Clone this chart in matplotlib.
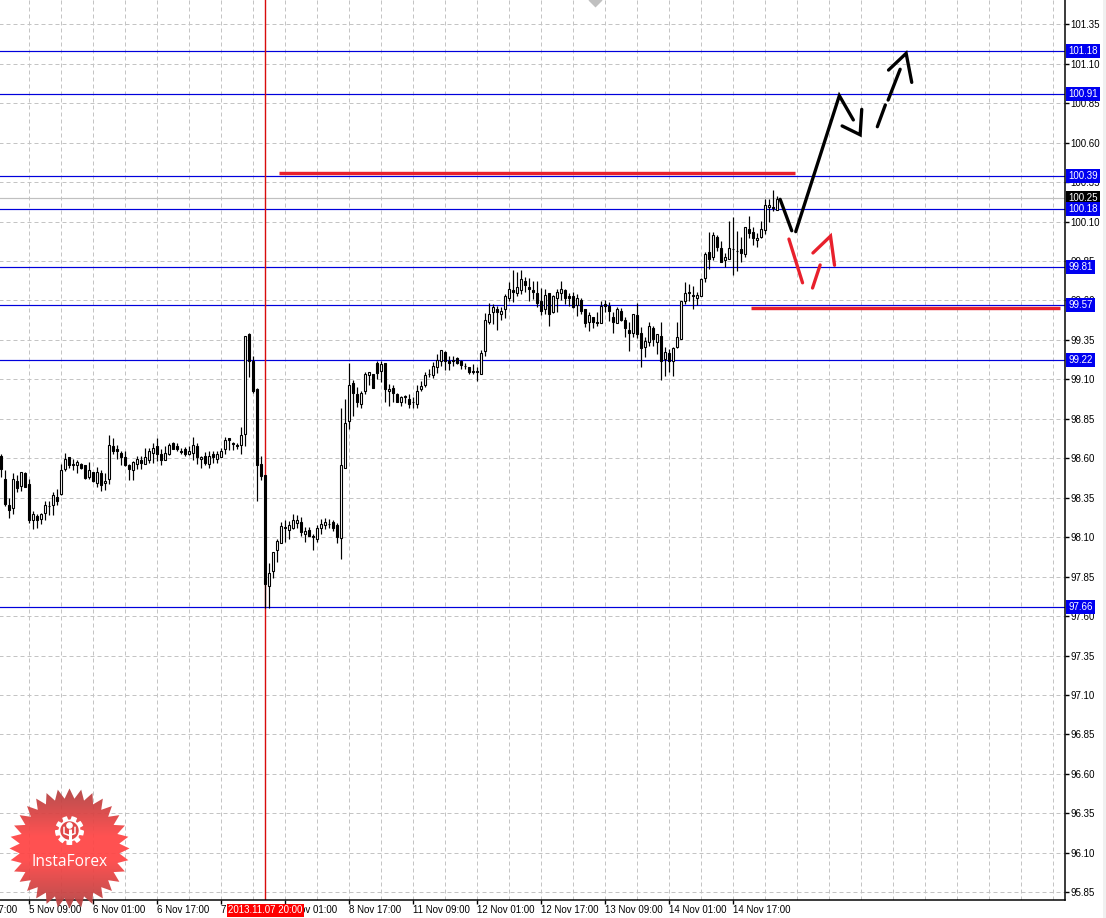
import numpy as np
import matplotlib
matplotlib.use('Agg')
import matplotlib.pyplot as plt
from matplotlib.patches import Polygon, Rectangle

plt.rcParams['font.family'] = ['Liberation Sans', 'DejaVu Sans']

# H4 candles, oldest first
opens = [
    98.615, 98.467, 98.305, 98.283, 98.457, 98.423, 98.508, 98.436, 98.207, 98.235,
    98.214, 98.252, 98.298, 98.302, 98.353, 98.372, 98.535, 98.609, 98.563, 98.556,
    98.563, 98.558, 98.484, 98.514, 98.442, 98.505, 98.442, 98.467, 98.677, 98.658,
    98.632, 98.609, 98.556, 98.524, 98.563, 98.590, 98.563, 98.592, 98.632, 98.677,
    98.626, 98.592, 98.626, 98.696, 98.677, 98.643, 98.658, 98.630, 98.632, 98.677,
    98.594, 98.615, 98.563, 98.626, 98.594, 98.611, 98.658, 98.728, 98.700, 98.683,
    98.683, 98.753, 99.387, 99.216, 99.038, 98.563, 98.493, 97.793, 97.884, 98.017,
    98.066, 98.163, 98.144, 98.161, 98.192, 98.197, 98.123, 98.144, 98.108, 98.091,
    98.161, 98.175, 98.184, 98.195, 98.178, 98.093, 98.541, 98.835, 99.076, 99.009,
    98.944, 99.024, 99.125, 99.134, 99.206, 99.151, 99.204, 99.026, 99.047, 99.007,
    98.954, 98.992, 98.977, 98.956, 98.944, 99.039, 99.062, 99.134, 99.125, 99.176,
    99.219, 99.276, 99.214, 99.223, 99.235, 99.214, 99.185, 99.178, 99.153, 99.153,
    99.134, 99.282, 99.462, 99.525, 99.546, 99.515, 99.546, 99.614, 99.667, 99.646,
    99.667, 99.726, 99.686, 99.667, 99.648, 99.595, 99.546, 99.648, 99.525, 99.614,
    99.648, 99.667, 99.631, 99.631, 99.574, 99.606, 99.546, 99.462, 99.498, 99.464,
    99.458, 99.578, 99.563, 99.498, 99.458, 99.536, 99.477, 99.415, 99.392, 99.510,
    99.392, 99.303, 99.337, 99.426, 99.339, 99.375, 99.231, 99.267, 99.219, 99.303,
    99.356, 99.599, 99.652, 99.635, 99.614, 99.626, 99.740, 99.910, 99.874, 100.005,
    99.933, 99.857, 99.861, 99.927, 99.914, 99.929, 99.893, 100.053, 100.037, 99.984,
    100.001, 100.047, 100.191, 100.193, 100.174,
]
closes = [
    98.533, 98.313, 98.275, 98.467, 98.414, 98.512, 98.421, 98.211, 98.245, 98.207,
    98.245, 98.302, 98.298, 98.366, 98.332, 98.524, 98.594, 98.560, 98.556, 98.575,
    98.541, 98.474, 98.524, 98.453, 98.510, 98.431, 98.455, 98.683, 98.643, 98.645,
    98.611, 98.558, 98.535, 98.575, 98.594, 98.573, 98.607, 98.647, 98.664, 98.628,
    98.588, 98.632, 98.683, 98.662, 98.658, 98.641, 98.626, 98.645, 98.683, 98.607,
    98.609, 98.573, 98.615, 98.605, 98.626, 98.645, 98.715, 98.715, 98.692, 98.677,
    98.747, 99.375, 99.218, 99.024, 98.556, 98.486, 97.805, 97.875, 98.004, 98.074,
    98.173, 98.156, 98.175, 98.207, 98.207, 98.135, 98.140, 98.110, 98.104, 98.156,
    98.182, 98.195, 98.184, 98.161, 98.101, 98.556, 98.823, 99.064, 99.011, 98.954,
    99.013, 99.134, 99.145, 99.043, 99.138, 99.197, 99.037, 99.039, 99.011, 98.958,
    98.988, 98.986, 98.941, 98.956, 99.024, 99.058, 99.128, 99.134, 99.185, 99.221,
    99.286, 99.219, 99.202, 99.219, 99.204, 99.193, 99.185, 99.144, 99.147, 99.147,
    99.265, 99.477, 99.515, 99.559, 99.525, 99.534, 99.629, 99.673, 99.652, 99.688,
    99.737, 99.699, 99.671, 99.652, 99.582, 99.532, 99.637, 99.515, 99.629, 99.654,
    99.673, 99.614, 99.614, 99.557, 99.616, 99.532, 99.458, 99.508, 99.462, 99.455,
    99.565, 99.563, 99.536, 99.462, 99.546, 99.479, 99.424, 99.392, 99.515, 99.388,
    99.297, 99.343, 99.438, 99.356, 99.388, 99.219, 99.273, 99.219, 99.299, 99.369,
    99.595, 99.648, 99.648, 99.629, 99.637, 99.738, 99.895, 99.861, 100.017, 99.941,
    99.842, 99.876, 99.933, 99.927, 99.914, 99.903, 100.066, 100.026, 99.994, 99.996,
    100.053, 100.206, 100.208, 100.187, 100.244,
]
highs = [
    98.626, 98.527, 98.347, 98.505, 98.495, 98.512, 98.512, 98.467, 98.266, 98.250,
    98.256, 98.330, 98.330, 98.387, 98.404, 98.563, 98.634, 98.609, 98.594, 98.588,
    98.571, 98.558, 98.575, 98.514, 98.546, 98.524, 98.505, 98.749, 98.730, 98.685,
    98.643, 98.643, 98.563, 98.584, 98.615, 98.615, 98.668, 98.668, 98.694, 98.730,
    98.658, 98.679, 98.698, 98.704, 98.700, 98.668, 98.673, 98.677, 98.734, 98.694,
    98.615, 98.637, 98.643, 98.643, 98.643, 98.668, 98.736, 98.728, 98.702, 98.698,
    98.797, 99.375, 99.394, 99.250, 99.043, 98.613, 98.493, 97.934, 98.004, 98.087,
    98.197, 98.207, 98.203, 98.247, 98.239, 98.228, 98.165, 98.165, 98.118, 98.178,
    98.214, 98.224, 98.216, 98.209, 98.188, 98.918, 98.975, 99.206, 99.098, 99.049,
    99.028, 99.149, 99.145, 99.134, 99.219, 99.219, 99.204, 99.070, 99.066, 99.013,
    98.996, 99.003, 99.007, 98.986, 99.064, 99.092, 99.145, 99.166, 99.208, 99.261,
    99.286, 99.282, 99.250, 99.250, 99.240, 99.223, 99.202, 99.180, 99.197, 99.180,
    99.286, 99.519, 99.584, 99.578, 99.567, 99.557, 99.641, 99.720, 99.790, 99.779,
    99.790, 99.747, 99.743, 99.726, 99.726, 99.677, 99.673, 99.648, 99.635, 99.673,
    99.726, 99.673, 99.648, 99.652, 99.641, 99.616, 99.546, 99.525, 99.498, 99.525,
    99.599, 99.603, 99.589, 99.525, 99.557, 99.551, 99.493, 99.462, 99.515, 99.584,
    99.430, 99.367, 99.466, 99.441, 99.388, 99.466, 99.303, 99.293, 99.307, 99.466,
    99.599, 99.720, 99.705, 99.694, 99.652, 99.743, 99.910, 100.032, 100.032, 100.017,
    99.979, 99.899, 100.106, 100.127, 100.039, 100.005, 100.066, 100.138, 100.068, 100.026,
    100.106, 100.244, 100.244, 100.297, 100.259,
]
lows = [
    98.482, 98.296, 98.224, 98.250, 98.389, 98.393, 98.421, 98.190, 98.154, 98.161,
    98.182, 98.211, 98.241, 98.241, 98.302, 98.368, 98.520, 98.541, 98.527, 98.508,
    98.529, 98.470, 98.470, 98.448, 98.421, 98.393, 98.400, 98.436, 98.630, 98.594,
    98.558, 98.548, 98.465, 98.465, 98.535, 98.535, 98.563, 98.571, 98.571, 98.584,
    98.560, 98.588, 98.622, 98.658, 98.643, 98.630, 98.615, 98.622, 98.588, 98.563,
    98.541, 98.558, 98.539, 98.573, 98.573, 98.605, 98.630, 98.654, 98.651, 98.656,
    98.630, 98.679, 99.112, 99.011, 98.330, 98.465, 97.649, 97.649, 97.843, 97.945,
    98.066, 98.072, 98.089, 98.150, 98.161, 98.108, 98.070, 98.108, 98.019, 98.072,
    98.118, 98.150, 98.161, 98.140, 98.066, 97.964, 98.541, 98.785, 98.869, 98.922,
    98.920, 99.007, 99.066, 99.043, 99.102, 99.081, 98.958, 98.933, 98.954, 98.954,
    98.933, 98.950, 98.916, 98.916, 98.916, 99.028, 99.054, 99.113, 99.106, 99.138,
    99.187, 99.161, 99.159, 99.185, 99.197, 99.166, 99.166, 99.134, 99.134, 99.092,
    99.134, 99.250, 99.451, 99.451, 99.413, 99.477, 99.489, 99.599, 99.593, 99.627,
    99.641, 99.652, 99.599, 99.610, 99.557, 99.508, 99.515, 99.441, 99.521, 99.525,
    99.603, 99.578, 99.567, 99.551, 99.504, 99.515, 99.430, 99.409, 99.424, 99.441,
    99.458, 99.525, 99.472, 99.392, 99.455, 99.472, 99.371, 99.282, 99.367, 99.362,
    99.176, 99.244, 99.314, 99.314, 99.261, 99.096, 99.123, 99.144, 99.123, 99.299,
    99.356, 99.578, 99.595, 99.546, 99.574, 99.626, 99.715, 99.800, 99.857, 99.912,
    99.842, 99.814, 99.861, 99.764, 99.785, 99.842, 99.874, 99.994, 99.954, 99.941,
    99.994, 100.022, 100.096, 100.166, 100.174,
]

price_ticks = [95.85, 96.10, 96.35, 96.60, 96.85, 97.10, 97.35, 97.60, 97.85, 98.10, 98.35, 98.60,
               98.85, 99.10, 99.35, 99.60, 99.85, 100.10, 100.35, 100.60, 100.85, 101.10, 101.35]
level_values = [101.18, 100.91, 100.39, 100.18, 99.81, 99.57, 99.22, 97.66]
last_price = 100.25
time_positions = [-9, 7, 23, 39, 55, 71, 87, 103, 119, 135, 151, 167, 183]
time_labels = ['4 Nov 17:00', '5 Nov 09:00', '6 Nov 01:00', '6 Nov 17:00', '7 Nov 09:00', '8 Nov 01:00',
               '8 Nov 17:00', '11 Nov 09:00', '12 Nov 01:00', '12 Nov 17:00', '13 Nov 09:00',
               '14 Nov 01:00', '14 Nov 17:00']
cross_bar = 66
cross_label = '2013.11.07 20:00'

# hand drawn forecast strokes, (bar, price)
black_strokes = [
    ([194.7, 197.6], [100.241, 100.042]),
    ([198.6, 209.5, 213.0], [100.036, 100.898, 100.744]),
    ([210.2, 214.7, 215.1], [100.706, 100.650, 100.811]),
    ([219.0, 221.0], [100.701, 100.839]),
    ([221.7, 224.7], [100.870, 101.065]),
    ([221.8, 226.2, 227.6], [101.060, 101.166, 100.982]),
]
red_strokes = [
    ([196.9, 200.3], [99.989, 99.712]),
    ([202.8, 204.7], [99.679, 99.825]),
    ([202.9, 207.3, 208.3], [99.901, 100.008, 99.823]),
]
red_levels = [(69.4, 198.4, 100.406), (187.4, 264.7, 99.550)]

#%%
W, H = 1106, 918
PX = 72 / 100
fig = plt.figure(figsize=(W / 100, H / 100), dpi=100, facecolor='white')
ax = fig.add_axes([0, 1 - 900 / H, 1064.5 / W, 900 / H])
ax.set_facecolor('white')

for s in ['top', 'left']:
    ax.spines[s].set_visible(False)
for s in ['right', 'bottom']:
    ax.spines[s].set_linewidth(1.5 * PX)

grid_x = np.arange(-1, 266, 8)
ax.vlines(grid_x, 95.8, 101.6, color='#c4c4c4', lw=1.0 * PX, linestyles=(0, (4, 3)), zorder=1)
ax.hlines(price_ticks, -1, 266, color='#c4c4c4', lw=1.0 * PX, linestyles=(0, (4, 3)), zorder=1)

# level lines
ax.hlines(last_price, -1, 266, color='#c0c0c0', lw=1.2 * PX, zorder=2)
ax.hlines(level_values, -1, 266, color='#0000dc', lw=1.2 * PX, zorder=2)
ax.axvline(cross_bar, color='#d80c0c', lw=1.4 * PX, zorder=2)

# candles
x = np.arange(len(opens))
o, c, h, l = map(np.array, (opens, closes, highs, lows))
ax.vlines(x, l, h, color='black', lw=1.2 * PX, zorder=3)
up = c >= o
ax.bar(x[up], (c - o)[up], bottom=o[up], width=0.55, facecolor='white', edgecolor='black',
       linewidth=1.1 * PX, zorder=4)
ax.bar(x[~up], (c - o)[~up], bottom=o[~up], width=0.55, facecolor='black', edgecolor='black',
       linewidth=1.1 * PX, zorder=4)

# forecast
for xs, ys in black_strokes:
    ax.plot(xs, ys, color='black', lw=3.3 * PX, solid_capstyle='round', solid_joinstyle='miter', zorder=6)
for xs, ys in red_strokes:
    ax.plot(xs, ys, color='#e8202c', lw=3.3 * PX, solid_capstyle='round', solid_joinstyle='miter', zorder=6)
for x0, x1, y0 in red_levels:
    ax.plot([x0, x1], [y0, y0], color='#e8202c', lw=3.4 * PX, solid_capstyle='butt', zorder=6)

# grey marker cut by the top edge
ax.plot([148.5], [101.504], marker='D', ms=7, color='#c0c0c0', mec='none', zorder=2, clip_on=True)

ax.set_xlim(-0.333, 265.79)
ax.set_ylim(95.801, 101.504)

# axes ticks
ax.yaxis.tick_right()
ax.set_yticks(price_ticks)
ax.set_yticklabels([f'{p:.2f}' for p in price_ticks], fontsize=7, color='black')
ax.tick_params(axis='y', length=3, width=1.4 * PX, pad=1)
ax.set_xticks(time_positions[1:])
ax.set_xticklabels([])
ax.tick_params(axis='x', length=3, width=1.4 * PX)
to_px = ax.get_xaxis_transform()
for t, lab in zip(time_positions, time_labels):
    ax.text(t - 0.1, -0.0115, lab, transform=to_px, fontsize=7, ha='left', va='center', clip_on=False,
            color='black')
ax.text(cross_bar, -0.0115, cross_label, transform=to_px, fontsize=7, color='white', ha='center', va='center',
        bbox=dict(facecolor='#ff0000', edgecolor='none', boxstyle='square,pad=0.15'), zorder=10)

# price boxes on the right
ypx = ax.get_yaxis_transform()
for v in level_values:
    ax.text(1.0035, v, f'{v:.2f}', transform=ypx, fontsize=7, color='white', ha='left', va='center',
            bbox=dict(facecolor='#0000f0', edgecolor='none', boxstyle='square,pad=0.2'), zorder=10, clip_on=False)
ax.text(1.0035, last_price, f'{last_price:.2f}', transform=ypx, fontsize=7, color='white', ha='left',
        va='center', bbox=dict(facecolor='black', edgecolor='none', boxstyle='square,pad=0.2'),
        zorder=9, clip_on=False)

# strip at the right edge of the screenshot
fig.add_artist(Rectangle((1103 / W, 0), 3 / W, 1, transform=fig.transFigure, facecolor='#f0f0f0', edgecolor='none'))

# logo
lax = fig.add_axes([0, 0, 140 / W, 140 / H], facecolor='none', zorder=5)
lax.axis('off')
cx, cy = 69.5, 848.5 - (H - 140)
n_spikes = 32
ang = np.linspace(0, 2 * np.pi, 2 * n_spikes, endpoint=False)
rad = np.where(np.arange(2 * n_spikes) % 2 == 0, 60, 50)
star = np.column_stack([cx + rad * np.sin(ang), cy - rad * np.cos(ang)])
shade = np.clip(1.25 * (1 - np.abs(np.linspace(-1, 1, 120))), 0, 1)
img = np.zeros((120, 1, 4))
img[:, 0, 0] = 0.68 + 0.32 * shade
img[:, 0, 1] = 0.25 + 0.02 * shade
img[:, 0, 2] = 0.25 + 0.02 * shade
img[:, 0, 3] = 0.93
im = lax.imshow(img, extent=[cx - 62, cx + 62, cy + 62, cy - 62], aspect='auto', zorder=1)
im.set_clip_path(Polygon(star, closed=True, transform=lax.transData))
lax.set_xlim(0, 140)
lax.set_ylim(140, 0)
# gear
gy = cy - 18
g_ang = np.linspace(0, 2 * np.pi, 120)
g_rad = 12 + 1.8 * np.sign(np.sin(9 * g_ang))
lax.fill(cx + g_rad * np.cos(g_ang), gy + g_rad * np.sin(g_ang), color='white', zorder=2)
lax.fill(cx + 8.5 * np.cos(g_ang), gy + 8.5 * np.sin(g_ang), color='#e04848', zorder=3)
lax.plot([cx, cx], [gy - 2, gy + 13], color='white', lw=2.2, zorder=4, solid_capstyle='butt')
lax.plot([cx - 5.5, cx - 5.5, cx], [gy - 3, gy + 3, gy + 5], color='white', lw=1.1, zorder=4)
lax.plot([cx + 5.5, cx + 5.5, cx], [gy - 3, gy + 3, gy + 5], color='white', lw=1.1, zorder=4)
lax.fill(cx + 2.6 * np.cos(g_ang), gy - 5 + 2.6 * np.sin(g_ang), color='white', zorder=4)
lax.text(cx, cy + 13, 'InstaForex', color='white', fontsize=11.2, family='Open Sans', ha='center', va='center',
         zorder=5)

fig.savefig('out.png', dpi=100)
